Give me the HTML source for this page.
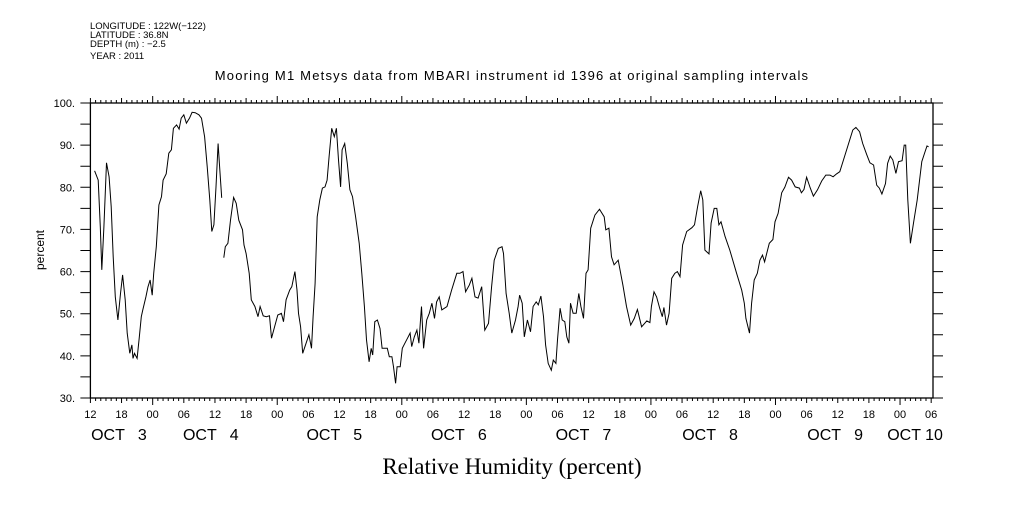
<!DOCTYPE html>
<html><head><meta charset="utf-8"><style>
body{margin:0;background:#fff;}
svg text{font-family:"Liberation Sans",sans-serif;fill:#000;}
</style></head><body>
<svg width="1009" height="504" viewBox="0 0 1009 504" xmlns="http://www.w3.org/2000/svg">
<g font-size="9.5">
<text x="90" y="29">LONGITUDE : 122W(−122)</text>
<text x="90" y="38">LATITUDE : 36.8N</text>
<text x="90" y="47">DEPTH (m) : −2.5</text>
<text x="90" y="59">YEAR : 2011</text>
</g>
<text x="512" y="80" text-anchor="middle" font-size="13" letter-spacing="1.2">Mooring M1 Metsys data from MBARI instrument id 1396 at original sampling intervals</text>
<text transform="translate(44,250) rotate(-90)" text-anchor="middle" font-size="12">percent</text>
<text x="512" y="474" text-anchor="middle" font-size="23" style="font-family:'Liberation Serif',serif">Relative Humidity (percent)</text>
<g id="axes"></g>
<g id="series"></g>
</svg>
<script>
const hours=[0.8,1.5,1.9,2.2,2.6,3.1,3.6,4.0,4.4,4.8,5.3,5.8,6.2,6.7,7.1,7.6,8.0,8.2,8.5,9.0,9.4,9.8,10.1,10.7,11.1,11.5,11.9,12.2,12.7,13.2,13.7,14.0,14.6,15.1,15.6,16.0,16.6,17.1,17.5,18.0,18.5,19.1,19.6,20.2,20.9,21.4,22.0,22.5,23.0,23.4,23.8,24.2,24.6,24.9,25.3,25.5,25.7,26.0,26.5,27.0,27.6,28.1,28.6,29.3,29.6,30.0,30.6,31.0,31.7,32.3,32.7,33.3,33.9,34.5,34.9,35.5,36.1,36.8,37.2,37.7,38.4,38.8,39.4,39.8,40.1,40.5,40.9,42.1,42.6,42.9,43.3,43.7,44.2,44.7,45.2,45.6,46.0,46.5,47.0,47.4,47.8,48.2,48.5,49.0,49.5,50.0,50.5,51.1,51.8,52.3,52.8,53.2,53.7,54.1,54.4,54.8,55.3,55.8,56.2,56.8,57.2,57.6,58.1,58.4,58.8,59.1,59.7,60.1,60.6,61.1,61.6,61.9,62.4,62.9,63.3,63.6,63.8,64.2,64.8,65.3,65.8,66.3,66.7,67.2,67.7,68.7,69.6,70.6,71.2,71.8,72.3,73.0,73.5,74.1,74.7,75.4,76.0,76.7,77.3,77.8,78.6,79.3,79.6,80.1,80.7,81.2,81.9,82.4,82.7,83.2,83.6,84.2,84.8,85.3,85.9,86.3,86.8,87.3,87.7,88.2,88.8,89.2,89.7,90.0,90.5,90.9,91.4,91.8,92.2,92.5,93.0,93.6,94.1,94.5,95.0,95.5,95.9,96.4,97.2,98.1,99.0,99.3,99.9,100.4,100.9,101.7,102.6,103.3,104.1,104.8,105.4,106.2,107.2,107.8,108.1,108.6,109.1,109.7,110.2,110.5,111.0,111.5,112.0,112.6,113.1,113.6,114.1,114.9,115.9,116.4,117.0,117.6,118.0,118.4,119.2,119.6,120.2,120.7,121.1,121.5,122.3,123.2,124.5,125.5,126.0,126.3,127.0,127.4,127.9,128.5,129.0,129.5,129.9,130.3,130.8,131.5,131.9,132.5,133.2,133.8,134.5,135.1,135.8,136.6,137.0,137.5,138.0,138.7,139.3,140.1,140.9,141.7,142.5,143.1,143.8,144.4,145.1,146.0,146.9,147.5,148.2,148.8,149.6,150.2,150.9,151.5,152.0,152.5,153.2,153.6,154.1,154.6,155.2,155.7,156.4,156.8,157.1,157.5,158.0,158.6,159.3,160.2,160.8,161.2,161.5];
const humidity=[83.9,81.7,70.6,60.4,70.6,85.8,82.5,75.4,63.5,54.0,48.5,54.8,59.2,53.3,45.4,40.6,42.6,39.4,40.6,39.4,44.2,49.3,50.9,54.0,56.4,58.0,54.4,59.6,65.9,75.8,77.8,81.7,83.2,88.1,88.9,94.0,94.8,93.8,96.4,97.2,95.2,96.4,97.8,97.7,97.2,96.4,92.0,84.9,77.0,69.5,71.1,80.1,90.4,84.9,77.5,null,63.3,65.9,66.7,72.2,77.6,76.2,72.2,69.9,66.3,64.3,59.6,53.3,51.7,49.3,51.7,49.5,49.3,49.5,44.2,46.9,49.7,50.1,48.1,53.3,55.6,56.4,60.0,55.6,50.1,46.9,40.6,45.0,41.8,49.3,57.2,73.0,77.0,79.8,80.1,81.7,87.3,94.0,92.0,94.0,86.5,80.1,88.9,90.4,85.7,79.4,77.8,73.0,66.7,59.6,51.7,43.8,38.6,41.8,40.2,48.1,48.5,46.5,41.8,41.8,41.8,39.8,39.8,37.4,33.5,37.4,37.4,41.8,43.0,44.2,45.4,42.2,44.5,46.1,43.0,48.5,51.7,41.8,48.5,50.1,52.5,48.9,52.8,54.0,50.9,51.7,55.6,59.6,59.6,60.0,55.2,56.8,58.4,54.0,53.7,56.4,46.1,47.7,56.4,62.7,65.5,65.9,64.3,54.8,50.1,45.4,48.5,51.7,54.4,52.5,44.5,48.5,45.7,51.7,52.8,52.1,54.2,49.3,42.6,38.2,36.6,39.0,38.2,43.8,51.3,48.5,48.1,44.5,43.0,52.5,50.1,50.1,54.8,51.7,48.9,59.6,60.4,70.3,73.4,74.8,73.0,69.9,70.3,63.5,61.6,62.7,56.8,51.7,47.3,48.9,51.0,46.9,48.3,47.9,51.7,55.2,54.0,51.3,49.3,51.5,47.3,50.1,58.4,59.6,60.0,58.8,66.3,69.5,70.4,71.1,75.4,79.2,77.0,65.1,64.2,71.5,75.0,75.0,71.1,71.8,68.3,65.1,59.6,55.6,52.5,48.9,45.4,52.5,58.0,59.6,62.7,63.9,62.3,64.3,66.7,67.6,71.8,73.8,78.7,80.0,82.4,81.7,80.1,79.8,78.7,79.5,82.4,79.8,77.9,79.4,81.5,82.9,82.9,82.5,83.2,83.7,86.5,90.0,93.6,94.2,93.2,90.4,87.7,85.8,85.3,80.5,79.8,78.4,80.9,85.7,87.4,86.5,83.3,86.1,86.3,90.0,90.0,77.0,66.7,71.5,77.0,86.1,88.4,89.8,89.6];
const yTickLabels=["30.","40.","50.","60.","70.","80.","90.","100."];
const hourLabels=["12","18","00","06"];
const dayLabels=["OCT   3","OCT   4","OCT   5","OCT   6","OCT   7","OCT   8","OCT   9","OCT 10"];
const dayLabelHours=[5.5,23.2,47,71,95,119.4,143.5,158.9];

const X0=90.4,PXH=5.19,XR=933,YB=398,YT=103;
const yMin=30,yMax=100;
const xs=h=>X0+h*PXH;
const ys=v=>YB-(v-yMin)/(yMax-yMin)*(YB-YT);
const NS="http://www.w3.org/2000/svg";
const axes=document.getElementById('axes'),series=document.getElementById('series');
function mk(tag,attrs,parent){const e=document.createElementNS(NS,tag);for(const k in attrs)e.setAttribute(k,attrs[k]);parent.appendChild(e);return e;}
let frame=mk('rect',{x:X0,y:YT,width:XR-X0,height:YB-YT,fill:'none',stroke:'#000','stroke-width':1.3},axes);


let tk='';
for(let v=30;v<=100;v+=5){const y=ys(v);tk+=`M${X0-10} ${y}H${X0}M${XR} ${y}H${XR+10}`;}
const nH=Math.floor((XR-X0)/PXH);
for(let h=0;h<=nH;h++){const x=xs(h);const len=((h+12)%24===0)?7:((h%6===0)?5:3);tk+=`M${x} ${YB}v${len}M${x} ${YT}v${-len}`;}
let tp=mk('path',{d:tk,stroke:'#000','stroke-width':1,fill:'none'},axes);


yTickLabels.forEach((l,i)=>{const t=mk('text',{x:75,y:ys(30+i*10)+4,'text-anchor':'end','font-size':11},axes);t.textContent=l;

});
for(let h=0;h<=nH;h+=6){const t=mk('text',{x:xs(h),y:418,'text-anchor':'middle','font-size':11},axes);t.textContent=hourLabels[(h/6)%4];

}
dayLabels.forEach((l,i)=>{const t=mk('text',{x:xs(dayLabelHours[i]),y:440,'text-anchor':'middle','font-size':16},axes);t.setAttribute('style','white-space:pre');t.textContent=l;

});
let d='',pen=false;
for(let i=0;i<hours.length;i++){if(humidity[i]===null){pen=false;continue;}d+=(pen?'L':'M')+xs(hours[i]).toFixed(1)+' '+ys(humidity[i]).toFixed(1);pen=true;}
let line=mk('path',{d:d,fill:'none',stroke:'#000','stroke-width':1},series);


</script>
</body></html>
